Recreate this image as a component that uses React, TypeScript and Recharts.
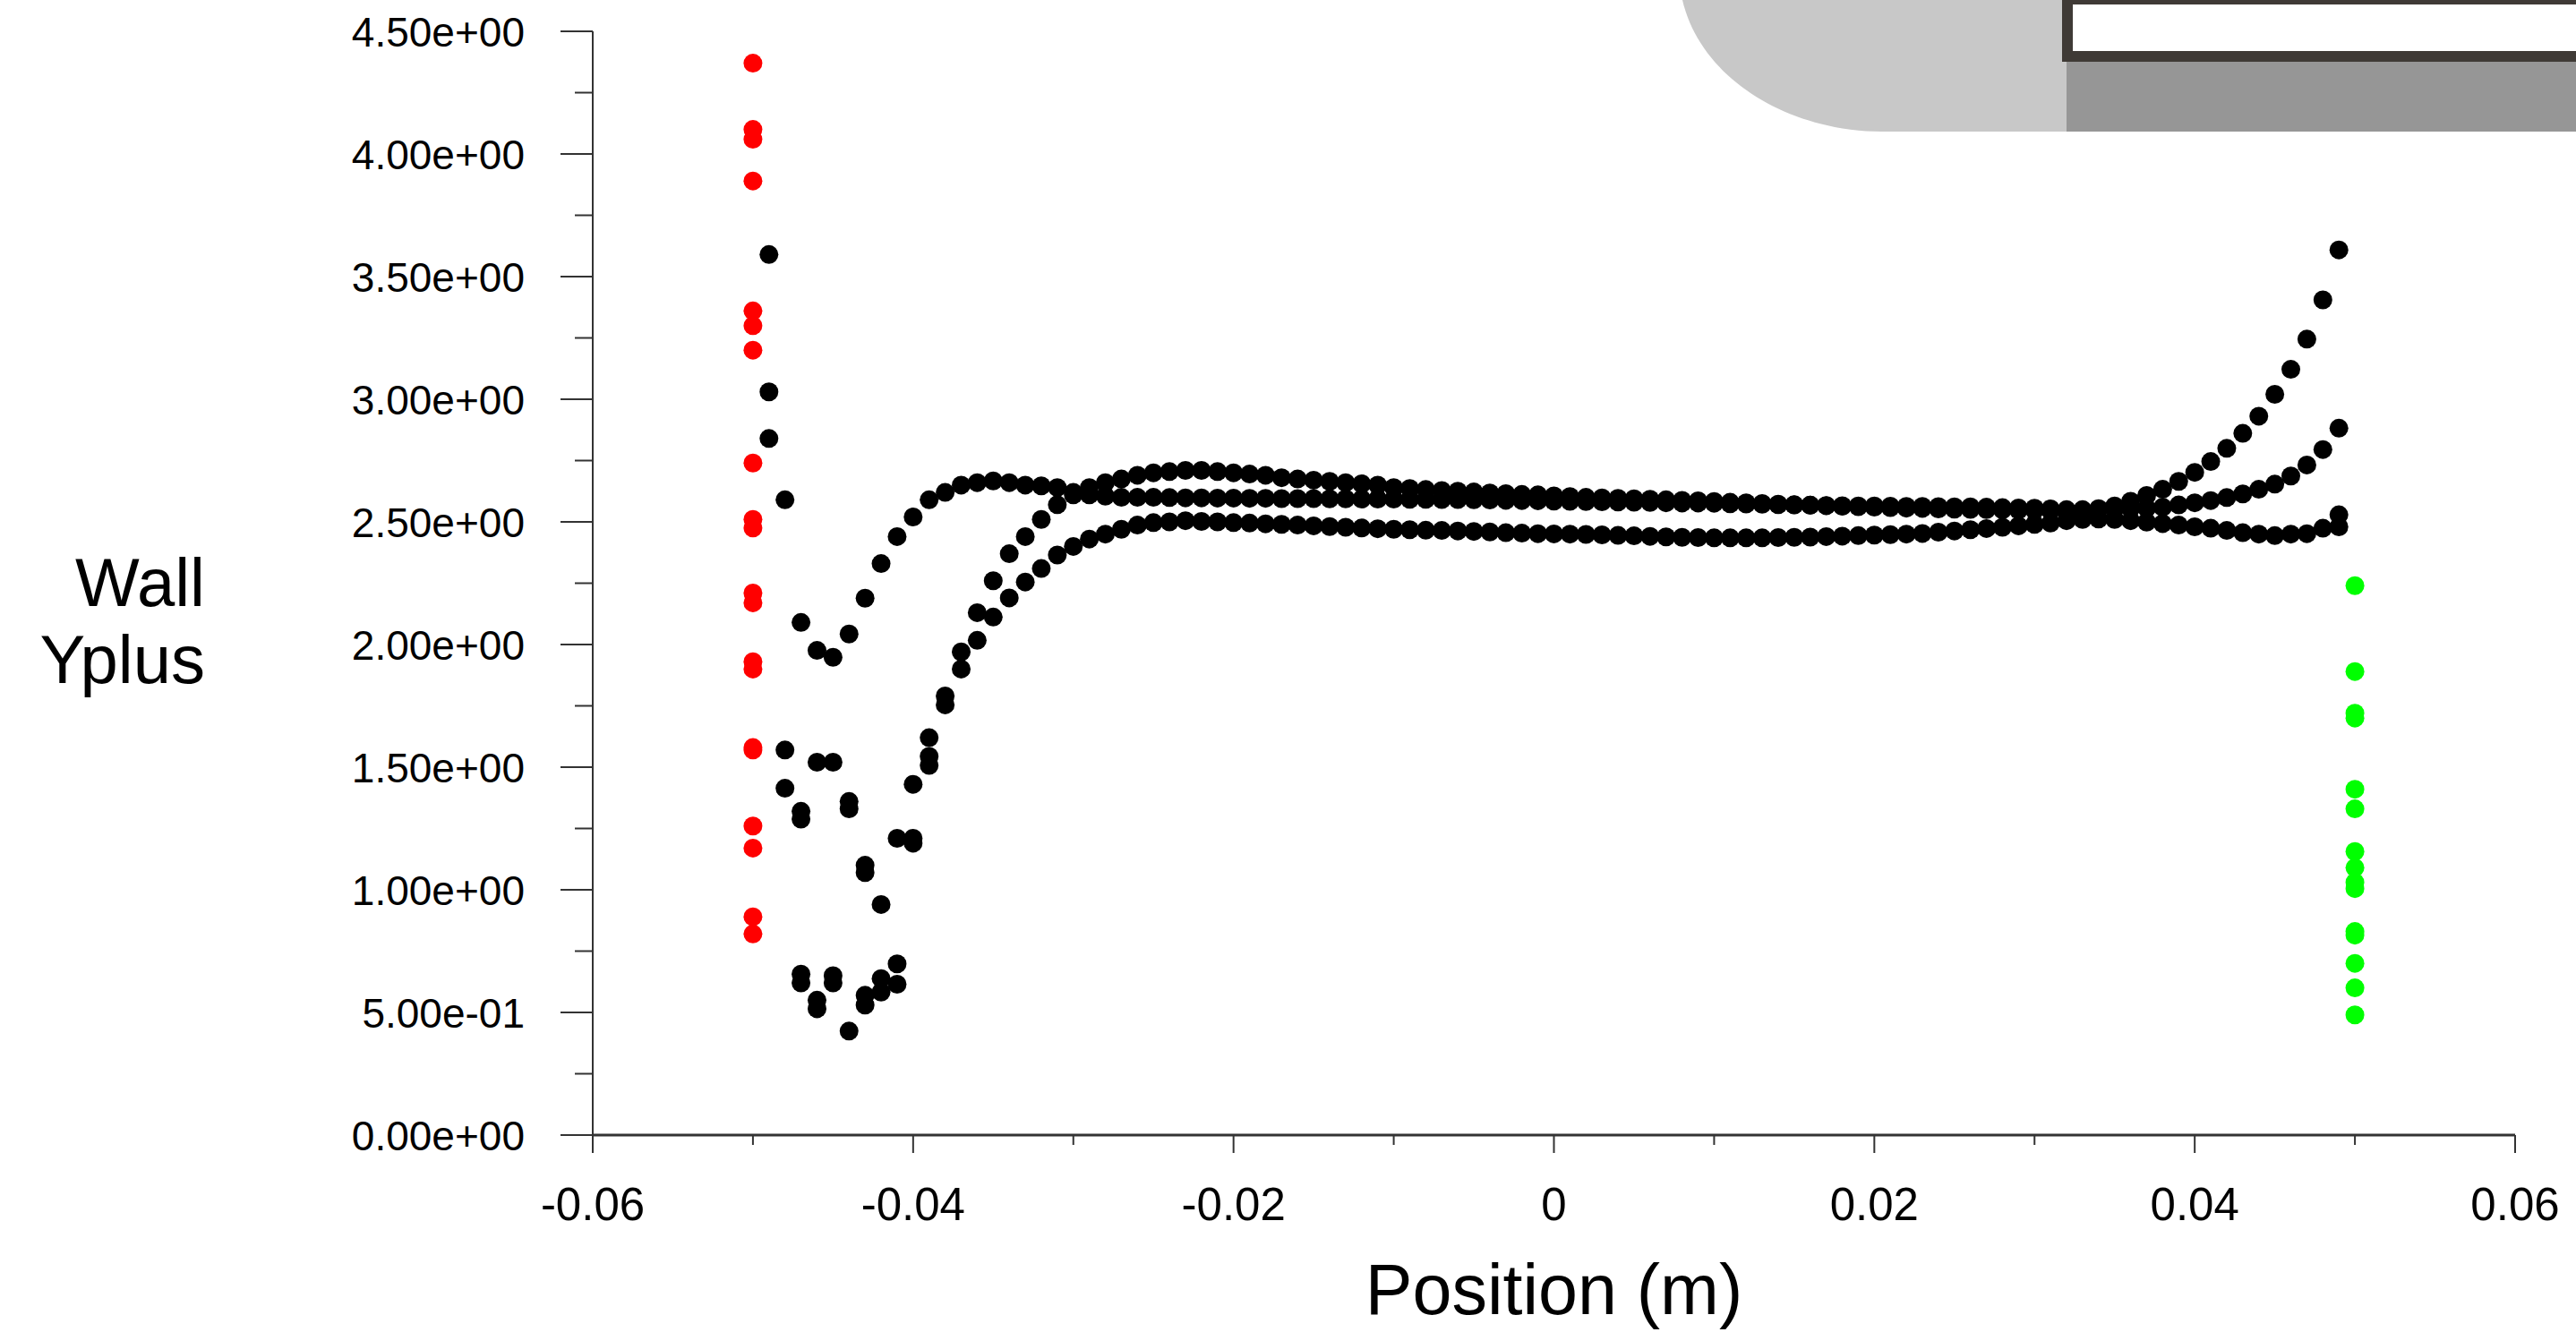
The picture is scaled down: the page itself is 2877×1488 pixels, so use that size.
import { Label, Scatter, ScatterChart, XAxis, YAxis } from "recharts";

// wall positions along the plot (m), shared by the three black wall series
const positions = [
  -0.049, -0.048, -0.047, -0.046, -0.045, -0.044, -0.043, -0.042, -0.041, -0.04,
  -0.039, -0.038, -0.037, -0.036, -0.035, -0.034, -0.033, -0.032, -0.031, -0.03,
  -0.029, -0.028, -0.027, -0.026, -0.025, -0.024, -0.023, -0.022, -0.021, -0.02,
  -0.019, -0.018, -0.017, -0.016, -0.015, -0.014, -0.013, -0.012, -0.011, -0.01,
  -0.009, -0.008, -0.007, -0.006, -0.005, -0.004, -0.003, -0.002, -0.001, 0,
  0.001, 0.002, 0.003, 0.004, 0.005, 0.006, 0.007, 0.008, 0.009, 0.01,
  0.011, 0.012, 0.013, 0.014, 0.015, 0.016, 0.017, 0.018, 0.019, 0.02,
  0.021, 0.022, 0.023, 0.024, 0.025, 0.026, 0.027, 0.028, 0.029, 0.03,
  0.031, 0.032, 0.033, 0.034, 0.035, 0.036, 0.037, 0.038, 0.039, 0.04,
  0.041, 0.042, 0.043, 0.044, 0.045, 0.046, 0.047, 0.048, 0.049,
];

const wallPeak = [
  3.03, 1.57, 1.32, 1.52, 1.52, 1.36, 1.1, 0.94, 1.21, 1.43,
  1.62, 1.79, 1.97, 2.13, 2.26, 2.37, 2.44, 2.51, 2.57, 2.61,
  2.64, 2.66, 2.675, 2.69, 2.7, 2.705, 2.71, 2.71, 2.705, 2.7,
  2.695, 2.69, 2.68, 2.675, 2.67, 2.665, 2.66, 2.655, 2.65, 2.64,
  2.636, 2.632, 2.628, 2.625, 2.622, 2.618, 2.615, 2.612, 2.61, 2.606,
  2.603, 2.6, 2.598, 2.596, 2.594, 2.592, 2.59, 2.588, 2.586, 2.583,
  2.58, 2.578, 2.575, 2.572, 2.57, 2.568, 2.566, 2.564, 2.562, 2.56,
  2.558, 2.556, 2.555, 2.553, 2.552, 2.551, 2.55, 2.549, 2.548, 2.547,
  2.545, 2.541, 2.547, 2.554, 2.565, 2.584, 2.608, 2.633, 2.665, 2.702,
  2.746, 2.8, 2.861, 2.931, 3.02, 3.122, 3.245, 3.405, 3.609,
];

const wallMid = [
  3.59, 2.59, 2.09, 1.976, 1.948, 2.043, 2.189, 2.33, 2.44, 2.52,
  2.59, 2.62, 2.65, 2.66, 2.667, 2.66, 2.65, 2.647, 2.64, 2.62,
  2.61, 2.605, 2.6, 2.6, 2.6, 2.599, 2.598, 2.598, 2.597, 2.597,
  2.596, 2.596, 2.595, 2.595, 2.595, 2.594, 2.594, 2.593, 2.593, 2.593,
  2.592, 2.592, 2.591, 2.591, 2.59, 2.589, 2.588, 2.587, 2.586, 2.585,
  2.584, 2.583, 2.582, 2.581, 2.58, 2.579, 2.578, 2.577, 2.577, 2.576,
  2.574, 2.573, 2.572, 2.57, 2.569, 2.568, 2.567, 2.566, 2.565, 2.565,
  2.564, 2.563, 2.563, 2.562, 2.561, 2.561, 2.56, 2.558, 2.557, 2.556,
  2.553, 2.55, 2.55, 2.551, 2.552, 2.554, 2.556, 2.56, 2.569, 2.578,
  2.587, 2.599, 2.614, 2.633, 2.654, 2.687, 2.732, 2.795, 2.882,
];

const wallLow = [
  2.84, 1.414, 0.656, 0.55, 0.65, 0.424, 0.57, 0.638, 0.698, 1.21,
  1.507, 1.754, 1.9, 2.017, 2.112, 2.19, 2.255, 2.31, 2.365, 2.4,
  2.43, 2.45, 2.47, 2.487, 2.497, 2.5, 2.505, 2.502, 2.5, 2.497,
  2.495, 2.492, 2.49, 2.487, 2.484, 2.481, 2.478, 2.475, 2.472, 2.47,
  2.468, 2.466, 2.465, 2.463, 2.461, 2.459, 2.456, 2.454, 2.452, 2.451,
  2.45, 2.449, 2.447, 2.445, 2.443, 2.441, 2.439, 2.437, 2.436, 2.435,
  2.435, 2.435, 2.435, 2.436, 2.437, 2.438, 2.44, 2.442, 2.444, 2.446,
  2.448, 2.45, 2.453, 2.458, 2.463, 2.468, 2.473, 2.478, 2.484, 2.49,
  2.495, 2.505, 2.51, 2.512, 2.51, 2.505, 2.499, 2.493, 2.487, 2.48,
  2.474, 2.465, 2.456, 2.45, 2.444, 2.45, 2.452, 2.474, 2.529,
];

// overlapping black points near the corners
const extraX = [-0.047, -0.047, -0.046, -0.045, -0.044, -0.043, -0.043, -0.042, -0.041, -0.04, -0.039, 0.049];
const extraY = [1.288, 0.62, 0.515, 0.62, 1.33, 1.07, 0.53, 0.583, 0.615, 1.19, 1.544, 2.48];

const leftWallX = -0.05;
const leftWall = [4.37, 4.1, 4.06, 3.89, 3.36, 3.3, 3.2, 2.74, 2.51, 2.475, 2.21, 2.17, 1.93, 1.9, 1.58, 1.57, 1.26, 1.17, 0.89, 0.82];
const rightWallX = 0.05;
const rightWall = [2.24, 1.89, 1.72, 1.7, 1.41, 1.33, 1.156, 1.09, 1.03, 1.005, 0.83, 0.815, 0.7, 0.6, 0.49];

const xTicks = [-0.06, -0.05, -0.04, -0.03, -0.02, -0.01, 0, 0.01, 0.02, 0.03, 0.04, 0.05, 0.06];
const yTicks = [0, 0.25, 0.5, 0.75, 1, 1.25, 1.5, 1.75, 2, 2.25, 2.5, 2.75, 3, 3.25, 3.5, 3.75, 4, 4.25, 4.5];

const FONT = "'Liberation Sans', Arial, sans-serif";
const AXIS = "#333";

const toPoints = (ys: number[]) => ys.map((y, i) => ({ x: positions[i], y }));
const blackA = toPoints(wallPeak);
const blackB = toPoints(wallMid);
const blackC = toPoints(wallLow);
const blackExtra = extraX.map((x, i) => ({ x, y: extraY[i] }));
const red = leftWall.map((y) => ({ x: leftWallX, y }));
const green = rightWall.map((y) => ({ x: rightWallX, y }));

function sci(v: number) {
  const [m, e] = v.toExponential(2).split("e");
  return `${m}e${e[0]}${e.slice(1).padStart(2, "0")}`;
}

const isMult = (v: number, step: number) => Math.abs(v / step - Math.round(v / step)) < 1e-6;

function YTick({ x, y, payload }: any) {
  const major = isMult(payload.value, 0.5);
  return (
    <g>
      <line x1={x - (major ? 36 : 20)} x2={x} y1={y} y2={y} stroke={AXIS} strokeWidth={2} />
      {major && (
        <text x={x - 76} y={y} dy="0.36em" textAnchor="end" fontSize={46} fontFamily={FONT} fill="#000">
          {sci(payload.value)}
        </text>
      )}
    </g>
  );
}

function XTick({ x, y, payload }: any) {
  const major = isMult(payload.value, 0.02);
  return (
    <g>
      <line x1={x} x2={x} y1={y} y2={y + (major ? 20 : 11)} stroke={AXIS} strokeWidth={2} />
      {major && (
        <text x={x} y={y + 95} textAnchor="middle" fontSize={51} fontFamily={FONT} fill="#000">
          {payload.value === 0 ? "0" : String(payload.value)}
        </text>
      )}
    </g>
  );
}

const dot = (fill: string) => (p: any) => <circle cx={p.cx} cy={p.cy} r={10.5} fill={fill} />;

function Overlay() {
  // grey geometry thumbnail in the top-right corner
  return (
    <svg width={2877} height={1488} style={{ position: "absolute", left: 0, top: 0, pointerEvents: "none" }}>
      <path d="M1879,0 C1900,90 2000,147 2102,147 L2310,147 L2310,0 Z" fill="#c8c8c8" />
      <rect x={2308} y={69} width={569} height={78} fill="#969696" />
      <rect x={2303} y={0} width={574} height={69} fill="#3f3a36" />
      <rect x={2315} y={5} width={562} height={52} fill="#ffffff" />
    </svg>
  );
}

export default function App() {
  return (
    <div style={{ position: "absolute", left: 0, top: 0, width: 2877, height: 1488, background: "#fff" }}>
      <ScatterChart width={2877} height={1488} margin={{ top: 35, right: 68, bottom: 0, left: 0 }}>
        <XAxis
          type="number"
          dataKey="x"
          domain={[-0.06, 0.06]}
          ticks={xTicks}
          height={220}
          tickSize={0}
          tickMargin={0}
          tickLine={false}
          axisLine={{ stroke: AXIS, strokeWidth: 3 }}
          tick={<XTick />}
          interval={0}
        >
          <Label
            content={({ viewBox }: any) => (
              <text x={viewBox.x + viewBox.width / 2} y={viewBox.y + 200} textAnchor="middle" fontSize={79} fontFamily={FONT} fill="#000">
                Position (m)
              </text>
            )}
          />
        </XAxis>
        <YAxis
          type="number"
          dataKey="y"
          domain={[0, 4.5]}
          ticks={yTicks}
          width={662}
          tickSize={0}
          tickMargin={0}
          tickLine={false}
          axisLine={{ stroke: AXIS, strokeWidth: 2 }}
          tick={<YTick />}
          interval={0}
        >
          <Label
            content={({ viewBox }: any) => {
              const mid = viewBox.y + viewBox.height / 2;
              return (
                <g>
                  <text x={229} y={mid + 25} textAnchor="end" fontSize={76} fontFamily={FONT} fill="#000">
                    Wall
                  </text>
                  <text x={229} y={mid + 111} textAnchor="end" fontSize={76} fontFamily={FONT} fill="#000">
                    Yplus
                  </text>
                </g>
              );
            }}
          />
        </YAxis>
        <Scatter data={red} shape={dot("#ff0000")} isAnimationActive={false} />
        <Scatter data={green} shape={dot("#00ff00")} isAnimationActive={false} />
        <Scatter data={blackA} shape={dot("#000000")} isAnimationActive={false} />
        <Scatter data={blackB} shape={dot("#000000")} isAnimationActive={false} />
        <Scatter data={blackC} shape={dot("#000000")} isAnimationActive={false} />
        <Scatter data={blackExtra} shape={dot("#000000")} isAnimationActive={false} />
      </ScatterChart>
      <Overlay />
    </div>
  );
}
